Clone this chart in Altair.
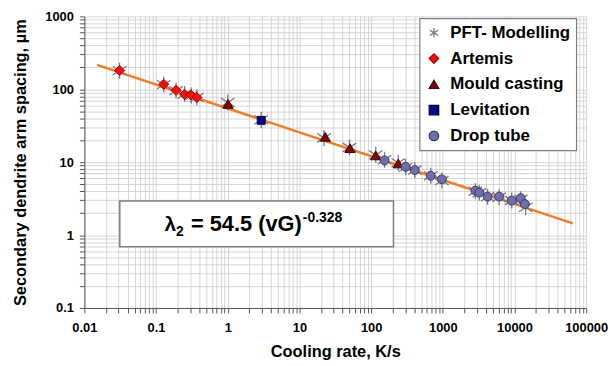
import altair as alt
import pandas as pd

FONT = "Liberation Sans"

# ---- data ----
series_names = ["PFT- Modelling", "Artemis", "Mould casting", "Levitation", "Drop tube"]

artemis_x = [0.031, 0.128, 0.19, 0.25, 0.307, 0.371]
artemis_y = [181, 117, 97, 85, 83.5, 77]

mould_x = [1.01, 22.9, 50.8, 116, 239]
mould_y = [63, 22.3, 15.6, 12.4, 9.6]

levitation_x = [2.93]
levitation_y = [37.5]

drop_x = [154, 303, 407, 678, 969, 2843, 3228, 4217, 6106, 9146, 12180, 13970]
drop_y = [10.6, 8.63, 7.79, 6.51, 5.82, 4.07, 3.82, 3.37, 3.37, 2.97, 3.21, 2.66]

pft_x = [0.031, 0.128, 0.19, 0.25, 0.31, 0.37, 1.0, 2.93, 22.0, 50.0, 116, 154, 239,
         303, 407, 680, 970, 2850, 3230, 4220, 6100, 9150, 12200, 14300]
pft_y = [180, 116, 96, 86, 82, 77, 66, 38, 21.5, 15.9, 12.6, 10.8, 9.8,
         8.5, 7.8, 6.5, 5.6, 4.0, 3.8, 3.35, 3.3, 2.98, 3.1, 2.4]

fit_x = [0.015, 65000]
fit_y = [216, 1.45]

# equation annotation (data coordinates)
box_x = [0.0312, 205]
box_y = [2.94, 0.69]
eq_lambda_x, eq_lambda_y = 0.19, 1.127
eq_sub_y = 0.98
eq_main_x = 10.8
eq_sup_y = 1.53

x_ticks = [m * 10.0 ** e for e in range(-2, 5) for m in range(1, 10)] + [100000]
y_ticks = [m * 10.0 ** e for e in range(-1, 3) for m in range(1, 10)] + [1000]

ASTERISK = "M0,-1L0,1M-0.85,-0.55L0.85,0.55M-0.85,0.55L0.85,-0.55"
series_shapes = [ASTERISK, "diamond", "triangle-up", "square", "circle"]
series_fill = ["transparent", "#EE1111", "#7A0A0A", "#0A0A80", "#6E6EA8"]
series_stroke = ["#7a7a7a", "#B00000", "#4A0000", "#000050", "#3A3A70"]
series_size = [260, 105, 105, 64, 80]

# ---- tables ----
rows = []
for n, xs, ys in [("PFT- Modelling", pft_x, pft_y), ("Artemis", artemis_x, artemis_y),
                  ("Mould casting", mould_x, mould_y),
                  ("Levitation", levitation_x, levitation_y), ("Drop tube", drop_x, drop_y)]:
    rows += [{"x": a, "y": b, "series": n} for a, b in zip(xs, ys)]
pts_df = pd.DataFrame(rows)
fit_df = pd.DataFrame({"x": fit_x, "y": fit_y})
box_df = pd.DataFrame({"x": [box_x[0]], "x2": [box_x[1]], "y": [box_y[0]], "y2": [box_y[1]]})

major_expr = "abs(log(datum.value)/LN10 - round(log(datum.value)/LN10)) < 1e-6 ? datum.label : ''"

xscale = alt.Scale(type="log", domain=[0.01, 100000], nice=False)
yscale = alt.Scale(type="log", domain=[0.1, 1000], nice=False)

X = alt.X("x:Q", scale=xscale, title="Cooling rate, K/s",
          axis=alt.Axis(values=x_ticks, labelExpr=major_expr, format="~g"))
Y = alt.Y("y:Q", scale=yscale, title="Secondary dendrite arm spacing, µm",
          axis=alt.Axis(values=y_ticks, labelExpr=major_expr, format="~g"))

leg = alt.Legend(title=None, orient="none", legendX=338, legendY=2)
shape_enc = alt.Shape("series:N", scale=alt.Scale(domain=series_names, range=series_shapes), legend=leg)
fill_enc = alt.Fill("series:N", scale=alt.Scale(domain=series_names, range=series_fill), legend=leg)
stroke_enc = alt.Stroke("series:N", scale=alt.Scale(domain=series_names, range=series_stroke), legend=leg)

line = alt.Chart(fit_df).mark_line(color="#F07D28", strokeWidth=2.5).encode(x=X, y=Y)

box = alt.Chart(box_df).mark_rect(fill="white", stroke="#7f7f7f", strokeWidth=1.5).encode(
    x="x:Q", x2="x2:Q", y="y:Q", y2="y2:Q")

lam = alt.Chart(pd.DataFrame({"x": [eq_lambda_x], "y": [eq_lambda_y]})).mark_text(
    text="λ", align="right", baseline="alphabetic", font=FONT, fontSize=21, fontWeight="bold",
    color="black").encode(x="x:Q", y="y:Q")
sub = alt.Chart(pd.DataFrame({"x": [eq_lambda_x], "y": [eq_sub_y]})).mark_text(
    text="2", align="left", baseline="alphabetic", font=FONT, fontSize=14, fontWeight="bold",
    color="black", dx=0).encode(x="x:Q", y="y:Q")
main = alt.Chart(pd.DataFrame({"x": [eq_main_x], "y": [eq_lambda_y]})).mark_text(
    text="= 54.5 (vG)", align="right", baseline="alphabetic", font=FONT, fontSize=22,
    fontWeight="bold", color="black").encode(x="x:Q", y="y:Q")
sup = alt.Chart(pd.DataFrame({"x": [eq_main_x], "y": [eq_sup_y]})).mark_text(
    text="-0.328", align="left", baseline="alphabetic", font=FONT, fontSize=14,
    fontWeight="bold", color="black", dx=1).encode(x="x:Q", y="y:Q")

layers = [line, box, lam, sub, main, sup]
for name, sz in zip(series_names, series_size):
    layers.append(
        alt.Chart(pts_df).transform_filter(alt.datum.series == name).mark_point(
            opacity=1, strokeWidth=1.3 if name == series_names[0] else 1, size=sz
        ).encode(x=X, y=Y, shape=shape_enc, fill=fill_enc, stroke=stroke_enc)
    )

chart = alt.layer(*layers).properties(
    width=506, height=294,
    autosize=alt.AutoSizeParams(type="none"),
    padding={"left": 77, "top": 7, "right": 22, "bottom": 51},
).configure_view(stroke=None).configure_axis(
    labelFont=FONT, labelFontSize=13, labelFontWeight="bold", labelColor="black",
    titleFont=FONT, titleFontSize=16.5, titleFontWeight="bold", titleColor="black",
    gridColor="#cbcbcb", gridWidth=0.8, domainColor="#555555", tickColor="#555555",
    tickSize=5, labelFlush=False, labelOverlap=False,
).configure_axisX(labelPadding=9, titlePadding=9).configure_axisY(
    labelPadding=6, titlePadding=16
).configure_legend(
    fillColor="white", strokeColor="#7f7f7f",
    strokeWidth=1.2, padding=6, rowPadding=8, labelOffset=8,
    labelFont=FONT, labelFontSize=17, labelFontWeight="bold", labelColor="black",
    symbolSize=90, symbolStrokeWidth=1.3, labelLimit=300,
)

chart.save("out.html", embed_options={"renderer": "svg", "actions": False})
